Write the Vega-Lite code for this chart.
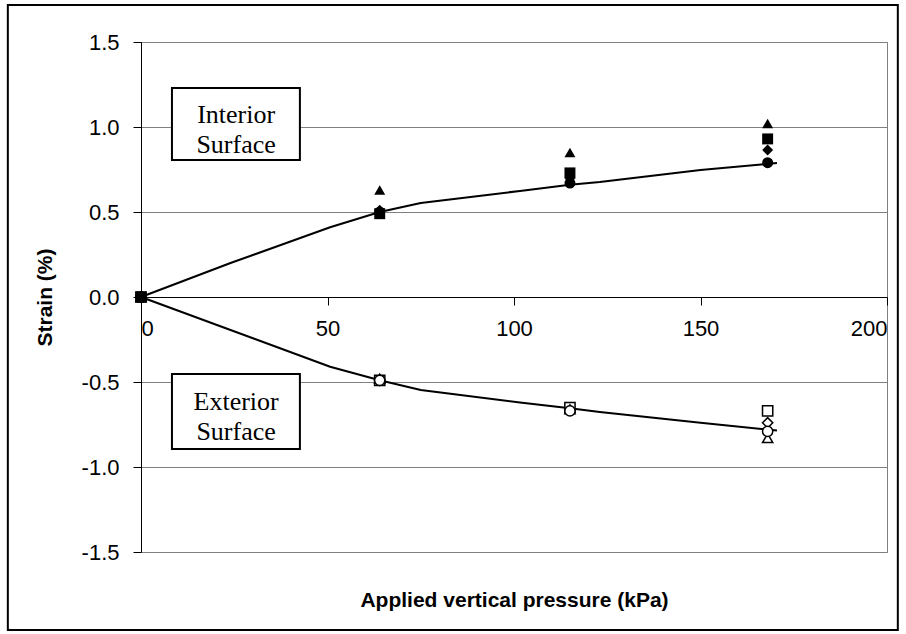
{
  "$schema": "https://vega.github.io/schema/vega-lite/v6.json",
  "width": 746,
  "height": 510,
  "autosize": {"type": "none"},
  "padding": {"left": 141, "top": 42, "right": 19, "bottom": 82},
  "background": "white",
  "config": {
    "view": {"stroke": "#808080", "strokeWidth": 1},
    "font": "Liberation Sans",
    "locale": {"number": {"decimal": ".", "thousands": ",", "grouping": [3], "currency": ["$", ""], "minus": "-"}}
  },
  "datasets": {
    "points": [
      {"p": 0, "strain": 0, "gauge": "G1", "surface": "Exterior"},
      {"p": 0, "strain": 0, "gauge": "G2", "surface": "Exterior"},
      {"p": 0, "strain": 0, "gauge": "G3", "surface": "Exterior"},
      {"p": 0, "strain": 0, "gauge": "G4", "surface": "Exterior"},
      {"p": 64, "strain": -0.49, "gauge": "G1", "surface": "Exterior"},
      {"p": 64, "strain": -0.49, "gauge": "G2", "surface": "Exterior"},
      {"p": 64, "strain": -0.48, "gauge": "G3", "surface": "Exterior"},
      {"p": 64, "strain": -0.49, "gauge": "G4", "surface": "Exterior"},
      {"p": 115, "strain": -0.66, "gauge": "G1", "surface": "Exterior"},
      {"p": 115, "strain": -0.65, "gauge": "G2", "surface": "Exterior"},
      {"p": 115, "strain": -0.66, "gauge": "G3", "surface": "Exterior"},
      {"p": 115, "strain": -0.67, "gauge": "G4", "surface": "Exterior"},
      {"p": 168, "strain": -0.74, "gauge": "G1", "surface": "Exterior"},
      {"p": 168, "strain": -0.67, "gauge": "G2", "surface": "Exterior"},
      {"p": 168, "strain": -0.83, "gauge": "G3", "surface": "Exterior"},
      {"p": 168, "strain": -0.79, "gauge": "G4", "surface": "Exterior"},
      {"p": 0, "strain": 0, "gauge": "G1", "surface": "Interior"},
      {"p": 0, "strain": 0, "gauge": "G3", "surface": "Interior"},
      {"p": 0, "strain": 0, "gauge": "G4", "surface": "Interior"},
      {"p": 0, "strain": 0, "gauge": "G2", "surface": "Interior"},
      {"p": 64, "strain": 0.51, "gauge": "G1", "surface": "Interior"},
      {"p": 64, "strain": 0.49, "gauge": "G2", "surface": "Interior"},
      {"p": 64, "strain": 0.63, "gauge": "G3", "surface": "Interior"},
      {"p": 64, "strain": 0.50, "gauge": "G4", "surface": "Interior"},
      {"p": 115, "strain": 0.70, "gauge": "G1", "surface": "Interior"},
      {"p": 115, "strain": 0.73, "gauge": "G2", "surface": "Interior"},
      {"p": 115, "strain": 0.85, "gauge": "G3", "surface": "Interior"},
      {"p": 115, "strain": 0.67, "gauge": "G4", "surface": "Interior"},
      {"p": 168, "strain": 0.865, "gauge": "G1", "surface": "Interior"},
      {"p": 168, "strain": 0.93, "gauge": "G2", "surface": "Interior"},
      {"p": 168, "strain": 1.02, "gauge": "G3", "surface": "Interior"},
      {"p": 168, "strain": 0.79, "gauge": "G4", "surface": "Interior"}
    ],
    "curves": [
      {"p": 0, "strain": 0, "surface": "Interior"},
      {"p": 24, "strain": 0.2, "surface": "Interior"},
      {"p": 50.7, "strain": 0.41, "surface": "Interior"},
      {"p": 64, "strain": 0.5, "surface": "Interior"},
      {"p": 75, "strain": 0.553, "surface": "Interior"},
      {"p": 101.6, "strain": 0.624, "surface": "Interior"},
      {"p": 115, "strain": 0.66, "surface": "Interior"},
      {"p": 123, "strain": 0.676, "surface": "Interior"},
      {"p": 150, "strain": 0.747, "surface": "Interior"},
      {"p": 170.5, "strain": 0.788, "surface": "Interior"},
      {"p": 0, "strain": 0, "surface": "Exterior"},
      {"p": 24, "strain": -0.194, "surface": "Exterior"},
      {"p": 50.7, "strain": -0.41, "surface": "Exterior"},
      {"p": 64, "strain": -0.49, "surface": "Exterior"},
      {"p": 75, "strain": -0.547, "surface": "Exterior"},
      {"p": 101.6, "strain": -0.62, "surface": "Exterior"},
      {"p": 115, "strain": -0.655, "surface": "Exterior"},
      {"p": 123, "strain": -0.676, "surface": "Exterior"},
      {"p": 150, "strain": -0.74, "surface": "Exterior"},
      {"p": 170.5, "strain": -0.785, "surface": "Exterior"}
    ],
    "labels": [
      {"text": "Interior", "p": 25.5, "strain": 1.07},
      {"text": "Surface", "p": 25.5, "strain": 0.895},
      {"text": "Exterior", "p": 25.5, "strain": -0.62},
      {"text": "Surface", "p": 25.5, "strain": -0.795}
    ]
  },
  "layer": [
    {
      "data": {"values": [{}]},
      "mark": {"type": "rect", "fill": null, "stroke": "black", "strokeWidth": 2, "clip": false},
      "encoding": {
        "x": {"datum": -35.7, "type": "quantitative", "scale": {"domain": [0, 200], "nice": false, "zero": false}, "axis": {
          "values": [0, 50, 100, 150, 200],
          "offset": -255,
          "grid": false,
          "domainColor": "black",
          "tickColor": "black",
          "tickSize": 8,
          "labelFontSize": 22,
          "labelColor": "black",
          "labelPadding": 13,
          "labelFont": "Liberation Sans",
          "title": "Applied vertical pressure (kPa)",
          "titleFont": "Liberation Sans",
          "titleFontSize": 21,
          "titleFontWeight": "bold",
          "titleColor": "black",
          "titleY": 303,
          "titleBaseline": "middle"
        }},
        "x2": {"datum": 202.9},
        "y": {"datum": 1.718, "type": "quantitative", "scale": {"domain": [-1.5, 1.5], "nice": false, "zero": false}, "axis": {
          "values": [-1.5, -1, -0.5, 0, 0.5, 1, 1.5],
          "format": ".1f",
          "grid": true,
          "gridColor": "#808080",
          "gridWidth": 1,
          "domainColor": "black",
          "tickColor": "black",
          "tickSize": 8,
          "labelFontSize": 22,
          "labelColor": "black",
          "labelPadding": 14,
          "labelFont": "Liberation Sans",
          "title": "Strain (%)",
          "titleFont": "Liberation Sans",
          "titleFontSize": 21,
          "titleFontWeight": "bold",
          "titleColor": "black",
          "titlePadding": 26
        }},
        "y2": {"datum": -1.959}
      }
    },
    {
      "data": {"name": "curves"},
      "mark": {"type": "line", "color": "black", "strokeWidth": 2},
      "encoding": {
        "x": {"field": "p", "type": "quantitative", "scale": {"domain": [0, 200], "nice": false, "zero": false}},
        "y": {"field": "strain", "type": "quantitative", "scale": {"domain": [-1.5, 1.5], "nice": false, "zero": false}},
        "detail": {"field": "surface"}
      }
    },
    {
      "data": {"name": "points"},
      "transform": [{"filter": "datum.surface === 'Exterior'"}],
      "mark": {"type": "point", "filled": false, "fill": "white", "fillOpacity": 1, "stroke": "black", "strokeWidth": 1.5, "opacity": 1, "size": 105},
      "encoding": {
        "x": {"field": "p", "type": "quantitative", "scale": {"domain": [0, 200], "nice": false, "zero": false}},
        "y": {"field": "strain", "type": "quantitative", "scale": {"domain": [-1.5, 1.5], "nice": false, "zero": false}},
        "shape": {"field": "gauge", "scale": {"domain": ["G1", "G2", "G3", "G4"], "range": ["diamond", "square", "triangle-up", "circle"]}, "legend": null}
      }
    },
    {
      "data": {"name": "points"},
      "transform": [{"filter": "datum.surface === 'Interior'"}],
      "mark": {"type": "point", "filled": true, "color": "black", "opacity": 1, "size": 120},
      "encoding": {
        "x": {"field": "p", "type": "quantitative", "scale": {"domain": [0, 200], "nice": false, "zero": false}},
        "y": {"field": "strain", "type": "quantitative", "scale": {"domain": [-1.5, 1.5], "nice": false, "zero": false}},
        "shape": {"field": "gauge", "scale": {"domain": ["G1", "G2", "G3", "G4"], "range": ["diamond", "square", "triangle-up", "circle"]}, "legend": null}
      }
    },
    {
      "data": {"values": [{"box": "Interior", "x1": 8.3, "x2": 42.6, "y1": 1.229, "y2": 0.806}, {"box": "Exterior", "x1": 8.3, "x2": 42.6, "y1": -0.453, "y2": -0.894}]},
      "mark": {"type": "rect", "fill": "white", "stroke": "black", "strokeWidth": 2},
      "encoding": {
        "x": {"field": "x1", "type": "quantitative", "scale": {"domain": [0, 200], "nice": false, "zero": false}},
        "x2": {"field": "x2"},
        "y": {"field": "y1", "type": "quantitative", "scale": {"domain": [-1.5, 1.5], "nice": false, "zero": false}},
        "y2": {"field": "y2"}
      }
    },
    {
      "data": {"name": "labels"},
      "mark": {"type": "text", "font": "Liberation Serif", "fontSize": 26, "color": "black", "align": "center", "baseline": "middle"},
      "encoding": {
        "x": {"field": "p", "type": "quantitative", "scale": {"domain": [0, 200], "nice": false, "zero": false}},
        "y": {"field": "strain", "type": "quantitative", "scale": {"domain": [-1.5, 1.5], "nice": false, "zero": false}},
        "text": {"field": "text"}
      }
    }
  ]
}
